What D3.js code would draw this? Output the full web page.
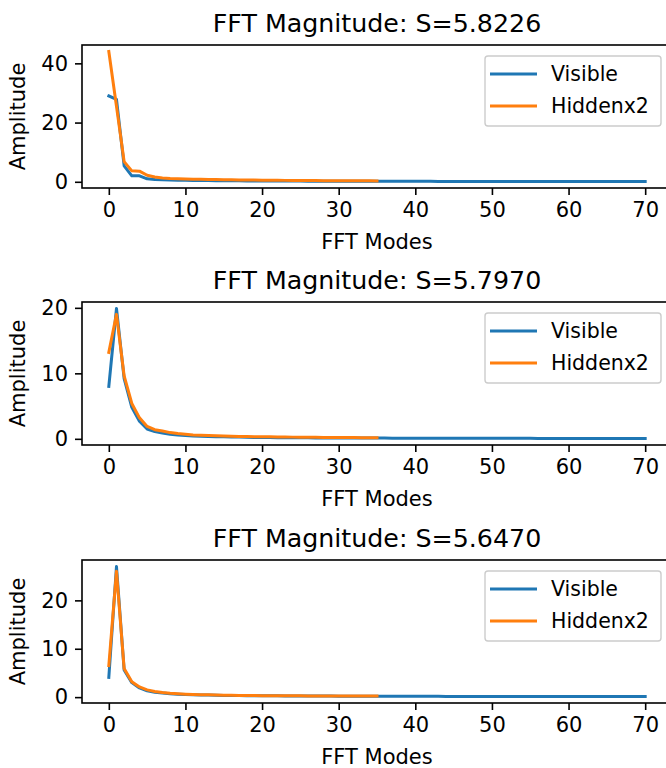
<!DOCTYPE html>
<html>
<head>
<meta charset="utf-8">
<script src="https://cdn.jsdelivr.net/npm/d3@7"></script>
<style>
  html, body { margin: 0; padding: 0; background: #fff; }
  svg { display: block; font-family: "DejaVu Sans", sans-serif; }
</style>
</head>
<body>
<svg id="chart" width="666" height="768"></svg>
<script>
// FFT magnitude spectra: visible layer (71 modes) and hidden layer x2 (36 modes)
const titles = ["FFT Magnitude: S=5.8226", "FFT Magnitude: S=5.7970", "FFT Magnitude: S=5.6470"];
const seriesNames = ["Visible", "Hiddenx2"];
const xTicks = [0, 10, 20, 30, 40, 50, 60, 70];
const yTicks = [[0, 20, 40], [0, 10, 20], [0, 10, 20]];

const visible1 = [29.0, 27.8, 5.4, 2.0, 2.0, 1.0, 0.8, 0.7, 0.62, 0.56, 0.5, 0.47, 0.44, 0.41, 0.39, 0.37, 0.35, 0.33, 0.31, 0.3,
  0.28, 0.27, 0.26, 0.25, 0.24, 0.23, 0.22, 0.22, 0.21, 0.2, 0.2, 0.19, 0.19, 0.18, 0.18, 0.17, 0.17, 0.16, 0.16, 0.16,
  0.15, 0.15, 0.15, 0.14, 0.14, 0.14, 0.14, 0.13, 0.13, 0.13, 0.13, 0.12, 0.12, 0.12, 0.12, 0.12, 0.11, 0.11, 0.11, 0.11,
  0.11, 0.11, 0.1, 0.1, 0.1, 0.1, 0.1, 0.1, 0.1, 0.1, 0.1];
const hidden1 = [44.0, 25.5, 6.8, 3.7, 3.6, 2.2, 1.6, 1.3, 1.1, 1.0, 0.95, 0.9, 0.85, 0.8, 0.76, 0.72, 0.68, 0.64, 0.6, 0.57,
  0.54, 0.52, 0.5, 0.48, 0.46, 0.44, 0.42, 0.4, 0.38, 0.37, 0.36, 0.35, 0.34, 0.33, 0.32, 0.31];

const visible2 = [8.0, 19.9, 9.2, 4.8, 2.7, 1.5, 1.1, 0.9, 0.7, 0.6, 0.5, 0.45, 0.4, 0.36, 0.33, 0.3, 0.28, 0.26, 0.24, 0.22,
  0.2, 0.19, 0.18, 0.17, 0.16, 0.15, 0.15, 0.14, 0.14, 0.13, 0.13, 0.12, 0.12, 0.12, 0.11, 0.11, 0.11, 0.1, 0.1, 0.1,
  0.1, 0.09, 0.09, 0.09, 0.09, 0.08, 0.08, 0.08, 0.08, 0.08, 0.07, 0.07, 0.07, 0.07, 0.07, 0.07, 0.06, 0.06, 0.06, 0.06,
  0.06, 0.06, 0.06, 0.05, 0.05, 0.05, 0.05, 0.05, 0.05, 0.05, 0.05];
const hidden2 = [13.2, 19.0, 9.6, 5.4, 3.2, 1.9, 1.4, 1.2, 0.95, 0.8, 0.7, 0.6, 0.55, 0.5, 0.46, 0.43, 0.4, 0.37, 0.35, 0.33,
  0.31, 0.3, 0.28, 0.27, 0.26, 0.25, 0.24, 0.23, 0.22, 0.21, 0.2, 0.2, 0.19, 0.18, 0.18, 0.17];

const visible3 = [4.1, 27.0, 5.6, 3.0, 1.9, 1.3, 1.0, 0.85, 0.7, 0.62, 0.55, 0.5, 0.46, 0.42, 0.39, 0.36, 0.34, 0.32, 0.3, 0.29,
  0.28, 0.27, 0.26, 0.25, 0.24, 0.23, 0.22, 0.22, 0.21, 0.21, 0.2, 0.2, 0.19, 0.19, 0.18, 0.18, 0.18, 0.17, 0.17, 0.17,
  0.16, 0.16, 0.16, 0.16, 0.15, 0.15, 0.15, 0.15, 0.15, 0.14, 0.14, 0.14, 0.14, 0.14, 0.14, 0.13, 0.13, 0.13, 0.13, 0.13,
  0.13, 0.13, 0.13, 0.13, 0.13, 0.13, 0.13, 0.13, 0.13, 0.13, 0.13];
const hidden3 = [6.5, 26.0, 5.9, 3.2, 2.1, 1.5, 1.15, 0.95, 0.8, 0.7, 0.62, 0.56, 0.51, 0.47, 0.44, 0.41, 0.38, 0.36, 0.34, 0.32,
  0.31, 0.3, 0.29, 0.28, 0.27, 0.26, 0.25, 0.25, 0.24, 0.24, 0.23, 0.23, 0.22, 0.22, 0.21, 0.21];

const panels = [
  { title: titles[0], visible: visible1, hidden: hidden1, ticks: yTicks[0] },
  { title: titles[1], visible: visible2, hidden: hidden2, ticks: yTicks[1] },
  { title: titles[2], visible: visible3, hidden: hidden3, ticks: yTicks[2] }
];

const colors = ["#1f77b4", "#ff7f0e"];
const svg = d3.select("#chart");
svg.append("rect").attr("width", 666).attr("height", 768).attr("fill", "#fff");

const left = 82, right = 672, plotH = 143;
const tops = [45, 302, 560];
const tickLen = 7, fontTick = 21, fontLegend = 20.5, fontTitle = 25.3;

panels.forEach((p, i) => {
  const top = tops[i], bottom = top + plotH;
  const g = svg.append("g");

  // x: modes with 5% padding on each side
  const nVis = p.visible.length - 1;
  const xPad = nVis * 0.05;
  const x = d3.scaleLinear().domain([-xPad, nVis + xPad]).range([left, right]);

  // y: data extent with 5% padding
  const all = p.visible.concat(p.hidden);
  const lo = d3.min(all), hi = d3.max(all);
  const yPad = (hi - lo) * 0.05;
  const y = d3.scaleLinear().domain([lo - yPad, hi + yPad]).range([bottom, top]);

  const clipId = "clip" + i;
  svg.append("clipPath").attr("id", clipId)
    .append("rect").attr("x", left).attr("y", top).attr("width", right - left).attr("height", plotH);

  const line = d3.line().x((d, k) => x(k)).y(d => y(d));
  const lines = g.append("g").attr("clip-path", `url(#${clipId})`);
  [p.visible, p.hidden].forEach((s, k) => {
    lines.append("path").datum(s)
      .attr("d", line)
      .attr("fill", "none")
      .attr("stroke", colors[k])
      .attr("stroke-width", 3)
      .attr("stroke-linejoin", "round")
      .attr("stroke-linecap", "square");
  });

  // axes
  const xAxis = d3.axisBottom(x).tickValues(xTicks).tickSize(tickLen).tickPadding(7).tickFormat(d3.format("d"));
  const yAxis = d3.axisLeft(y).tickValues(p.ticks).tickSize(tickLen).tickPadding(7).tickFormat(d3.format("d"));

  const gx = g.append("g").attr("transform", `translate(0,${bottom})`).call(xAxis);
  const gy = g.append("g").attr("transform", `translate(${left},0)`).call(yAxis);
  [gx, gy].forEach(ax => {
    ax.select(".domain").remove();
    ax.selectAll(".tick line").attr("stroke", "#000").attr("stroke-width", 1.6);
    ax.selectAll(".tick text").attr("fill", "#000").attr("font-size", fontTick)
      .attr("font-family", "DejaVu Sans, sans-serif");
  });

  // frame
  g.append("rect").attr("x", left).attr("y", top).attr("width", right - left).attr("height", plotH)
    .attr("fill", "none").attr("stroke", "#000").attr("stroke-width", 1.6);

  // titles and labels
  g.append("text").attr("x", (left + right) / 2).attr("y", top - 13)
    .attr("text-anchor", "middle").attr("font-size", fontTitle).attr("fill", "#000").text(p.title);
  g.append("text").attr("x", (left + right) / 2).attr("y", bottom + 61)
    .attr("text-anchor", "middle").attr("font-size", fontTick).attr("fill", "#000").text("FFT Modes");
  g.append("text").attr("transform", `translate(25,${(top + bottom) / 2}) rotate(-90)`)
    .attr("text-anchor", "middle").attr("font-size", fontTick).attr("fill", "#000").text("Amplitude");

  // legend
  const lx = 485, ly = top + 11, lw = 176, lh = 70;
  const lg = g.append("g");
  lg.append("rect").attr("x", lx).attr("y", ly).attr("width", lw).attr("height", lh)
    .attr("rx", 3).attr("fill", "#fff").attr("fill-opacity", 0.8)
    .attr("stroke", "#cccccc").attr("stroke-width", 1.4);
  seriesNames.forEach((name, k) => {
    const cy = ly + 18 + k * 32;
    lg.append("line").attr("x1", lx + 5).attr("x2", lx + 52).attr("y1", cy).attr("y2", cy)
      .attr("stroke", colors[k]).attr("stroke-width", 3);
    lg.append("text").attr("x", lx + 66).attr("y", cy).attr("dy", "0.35em")
      .attr("font-size", fontLegend).attr("fill", "#000").text(name);
  });
});
</script>
</body>
</html>
